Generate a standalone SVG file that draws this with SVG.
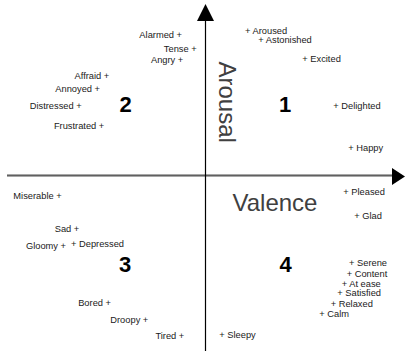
<svg xmlns="http://www.w3.org/2000/svg" width="405" height="351" viewBox="0 0 405 351">
<style>
.w{font-family:"Liberation Sans",Arial,sans-serif;font-size:9.3px;fill:#1a1a1a}
.e{text-anchor:end}
.q{font-family:"Liberation Sans",Arial,sans-serif;font-size:22px;font-weight:bold;fill:#000;text-anchor:middle}
.ax{font-family:"Liberation Sans",Arial,sans-serif;font-size:24px;fill:#404040}
</style>
<rect width="405" height="351" fill="#fff"/>
<g id="connectors">
<line x1="7" y1="175.5" x2="393" y2="175.5" stroke="#8a8a8a" stroke-width="2.5"/>
<line x1="7" y1="175.5" x2="393" y2="175.5" stroke="#555" stroke-width="0.8"/>
<polygon points="405,176.5 392,168 392,185" fill="#000"/>
<line x1="205.5" y1="20" x2="205.5" y2="351" stroke="#000" stroke-width="1.2"/>
<polygon points="205.5,4 197,21 214,21" fill="#000"/>
</g>
<g id="axis-labels">
<text id="arousal" class="ax" transform="translate(219,61.5) rotate(90)">Arousal</text>
<text id="valence" class="ax" x="232.5" y="211">Valence</text>
</g>
<g id="quadrants">
<text id="q1" class="q" x="285" y="112">1</text>
<text id="q2" class="q" x="125.5" y="112">2</text>
<text id="q3" class="q" x="125" y="272">3</text>
<text id="q4" class="q" x="285.5" y="272">4</text>
</g>
<g id="words">
<text id="alarmed" class="w e" x="182" y="37.5">Alarmed +</text>
<text id="tense" class="w e" x="196.7" y="52">Tense +</text>
<text id="angry" class="w e" x="183.3" y="63.3">Angry +</text>
<text id="afraid" class="w e" x="109.3" y="79">Affraid +</text>
<text id="annoyed" class="w e" x="100" y="92.4">Annoyed +</text>
<text id="distressed" class="w e" x="81.7" y="109">Distressed +</text>
<text id="frustrated" class="w e" x="104.3" y="129.4">Frustrated +</text>
<text id="aroused" class="w" x="245" y="34">+ Aroused</text>
<text id="astonished" class="w" x="258.3" y="42.7">+ Astonished</text>
<text id="excited" class="w" x="302.3" y="61.7">+ Excited</text>
<text id="delighted" class="w" x="333.3" y="108.7">+ Delighted</text>
<text id="happy" class="w" x="348.3" y="151">+ Happy</text>
<text id="miserable" class="w e" x="61.7" y="199">Miserable +</text>
<text id="sad" class="w e" x="79.3" y="231.7">Sad +</text>
<text id="gloomy" class="w e" x="66" y="249">Gloomy +</text>
<text id="depressed" class="w" x="71" y="246.7">+ Depressed</text>
<text id="bored" class="w e" x="111" y="306">Bored +</text>
<text id="droopy" class="w e" x="148.3" y="322.7">Droopy +</text>
<text id="tired" class="w e" x="184.3" y="339">Tired +</text>
<text id="pleased" class="w" x="343.3" y="195">+ Pleased</text>
<text id="glad" class="w" x="354.3" y="219.3">+ Glad</text>
<text id="serene" class="w" x="349" y="265.7">+ Serene</text>
<text id="content" class="w" x="346.7" y="276.7">+ Content</text>
<text id="atease" class="w" x="341.7" y="286.7">+ At ease</text>
<text id="satisfied" class="w" x="337.3" y="295.7">+ Satisfied</text>
<text id="relaxed" class="w" x="330.7" y="306.7">+ Relaxed</text>
<text id="calm" class="w" x="319.3" y="316.7">+ Calm</text>
<text id="sleepy" class="w" x="219.3" y="338.3">+ Sleepy</text>
</g>
</svg>
